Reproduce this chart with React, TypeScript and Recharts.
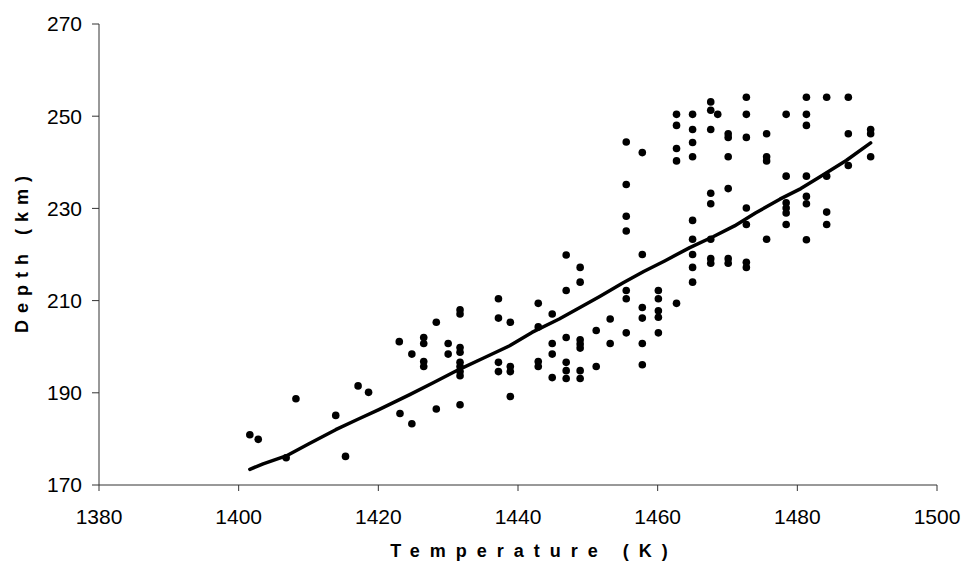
import { ScatterChart, Scatter, XAxis, YAxis, Label } from 'recharts'

// measured points: temperature (K) and depth (km), same order
const tempK = [
  1401.6, 1402.8, 1406.8, 1408.2, 1413.9, 1415.3, 1417.1, 1418.6,
  1423.0, 1423.1, 1424.8, 1424.8,
  1426.5, 1426.5, 1426.5, 1426.5,
  1428.3, 1428.3, 1430.0, 1430.0,
  1431.7, 1431.7, 1431.7, 1431.7, 1431.7, 1431.7, 1431.7, 1431.7, 1431.7,
  1437.2, 1437.2, 1437.2, 1437.2,
  1438.9, 1438.9, 1438.9, 1438.9,
  1442.9, 1442.9, 1442.9, 1442.9,
  1444.9, 1444.9, 1444.9, 1444.9,
  1446.9, 1446.9, 1446.9, 1446.9, 1446.9, 1446.9,
  1448.9, 1448.9, 1448.9, 1448.9, 1448.9, 1448.9, 1448.9,
  1451.2, 1451.2, 1453.2, 1453.2,
  1455.5, 1455.5, 1455.5, 1455.5, 1455.5, 1455.5, 1455.5,
  1457.8, 1457.8, 1457.8, 1457.8, 1457.8, 1457.8,
  1460.1, 1460.1, 1460.1, 1460.1, 1460.1,
  1462.7, 1462.7, 1462.7, 1462.7, 1462.7,
  1465.0, 1465.0, 1465.0, 1465.0, 1465.0, 1465.0, 1465.0, 1465.0, 1465.0,
  1467.6, 1467.6, 1467.6, 1467.6, 1467.6, 1467.6, 1467.6, 1467.6,
  1468.6,
  1470.1, 1470.1, 1470.1, 1470.1, 1470.1, 1470.1,
  1472.7, 1472.7, 1472.7, 1472.7, 1472.7, 1472.7, 1472.7,
  1475.6, 1475.6, 1475.6, 1475.6,
  1478.4, 1478.4, 1478.4, 1478.4, 1478.4, 1478.4,
  1481.3, 1481.3, 1481.3, 1481.3, 1481.3, 1481.3, 1481.3,
  1484.2, 1484.2, 1484.2, 1484.2,
  1487.3, 1487.3, 1487.3,
  1490.5, 1490.5, 1490.5,
]
const depthKm = [
  180.9, 179.9, 175.9, 188.7, 185.1, 176.2, 191.5, 190.1,
  201.1, 185.5, 198.4, 183.3,
  202.0, 200.7, 196.8, 195.7,
  205.3, 186.5, 200.7, 198.4,
  208.0, 207.1, 199.8, 198.8, 196.6, 195.7, 194.6, 193.7, 187.4,
  210.4, 206.2, 196.6, 194.6,
  205.3, 195.7, 194.6, 189.2,
  209.4, 204.3, 196.8, 195.7,
  207.1, 200.7, 198.4, 193.3,
  219.9, 212.2, 202.0, 196.6, 194.8, 193.1,
  217.2, 214.0, 201.5, 200.6, 199.7, 194.8, 193.1,
  203.5, 195.7, 206.0, 200.7,
  244.4, 235.2, 228.3, 225.1, 212.2, 210.4, 203.0,
  242.1, 220.0, 208.5, 206.2, 200.7, 196.1,
  212.2, 210.4, 207.8, 206.4, 203.0,
  250.4, 248.0, 243.0, 240.3, 209.4,
  250.4, 247.1, 244.3, 241.2, 227.4, 223.3, 220.0, 217.2, 214.0,
  253.1, 251.3, 247.1, 233.3, 231.0, 223.3, 219.1, 218.1,
  250.4,
  246.2, 245.4, 241.2, 234.3, 219.1, 218.1,
  254.1, 250.4, 245.4, 230.1, 226.5, 218.3, 217.2,
  246.2, 241.2, 240.3, 223.3,
  250.4, 237.0, 231.2, 230.1, 229.0, 226.5,
  254.1, 250.4, 248.0, 237.0, 232.6, 231.0, 223.2,
  254.1, 237.0, 229.2, 226.5,
  254.1, 246.2, 239.3,
  247.1, 246.2, 241.2,
]

// fitted curve
const fitTemp = [
  1401.6, 1403.5, 1406.8, 1410.0, 1413.9, 1417.0, 1420.0, 1424.5, 1428.0,
  1431.6, 1435.0, 1438.8, 1442.0, 1445.9, 1449.0, 1451.7, 1455.0, 1458.0,
  1461.0, 1464.6, 1468.0, 1471.0, 1474.0, 1477.5, 1480.5, 1483.2, 1487.0, 1490.5,
]
const fitDepth = [
  173.4, 174.6, 176.3, 178.9, 182.0, 184.2, 186.3, 189.6, 192.3,
  195.1, 197.5, 200.2, 203.1, 206.0, 208.6, 210.9, 213.8, 216.3,
  218.6, 221.5, 223.9, 226.2, 229.0, 232.0, 234.3, 236.8, 240.4, 244.2,
]

const xTicks = [1380, 1400, 1420, 1440, 1460, 1480, 1500]
const yTicks = [170, 190, 210, 230, 250, 270]

const points = tempK.map((t, i) => ({ t, d: depthKm[i] }))
const fit = fitTemp.map((t, i) => ({ t, d: fitDepth[i] }))

const font = '"Liberation Sans", Arial, sans-serif'
const tickStyle = { fontSize: 21, fill: '#000', fontFamily: font }
const axisColor = '#333'

const Dot = (p: any) => <circle cx={p.cx} cy={p.cy} r={3.8} fill="#000" />
const NoDot = () => <g />

const DepthLabel = (p: any) => {
  const vb = p.viewBox
  const cx = vb.x + 22
  const cy = vb.y + vb.height / 2
  return (
    <text
      x={cx} y={cy} dx={3.5}
      transform={`rotate(-90, ${cx}, ${cy})`}
      textAnchor="middle"
      dominantBaseline="central"
      style={{ fontSize: 18, fontWeight: 700, fontFamily: font, letterSpacing: 7 }}
      fill="#000"
    >
      Depth (km)
    </text>
  )
}

export default function App() {
  return (
    <div style={{ position: 'absolute', left: 0, top: 0, background: '#fff' }}>
      <ScatterChart width={965} height={574} margin={{ top: 24, right: 28, bottom: 0, left: 0 }}>
        <XAxis
          type="number"
          dataKey="t"
          domain={[1380, 1500]}
          ticks={xTicks}
          allowDataOverflow
          stroke={axisColor}
          tickSize={6}
          tickMargin={18}
          tick={tickStyle}
          height={89}
        >
          <Label
            value="Temperature (K)"
            position="insideBottom"
            offset={17}
            dx={16}
            style={{ fontSize: 18, fontWeight: 700, fontFamily: font, letterSpacing: 10, fill: '#000' }}
          />
        </XAxis>
        <YAxis
          type="number"
          dataKey="d"
          domain={[170, 270]}
          ticks={yTicks}
          allowDataOverflow
          stroke={axisColor}
          tickSize={7}
          tickMargin={10}
          tick={tickStyle}
          width={99}
          label={{ content: DepthLabel }}
        />
        <Scatter data={points} shape={Dot} isAnimationActive={false} />
        <Scatter
          data={fit}
          shape={NoDot}
          line={{ stroke: '#000', strokeWidth: 3.5, strokeLinejoin: 'round', strokeLinecap: 'round' }}
          isAnimationActive={false}
        />
      </ScatterChart>
    </div>
  )
}
